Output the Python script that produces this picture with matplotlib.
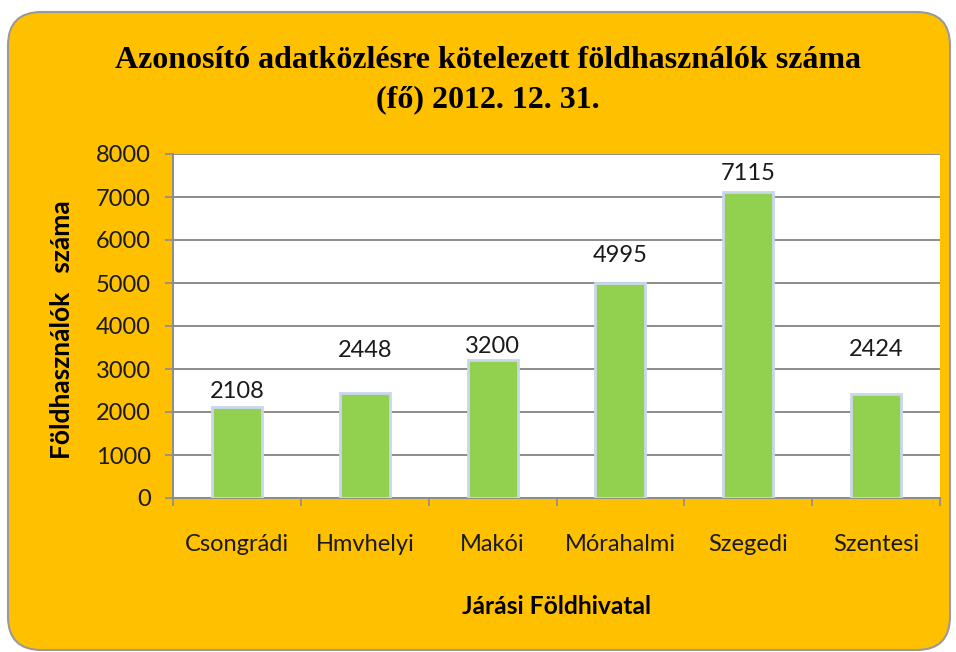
import matplotlib.pyplot as plt
from matplotlib.patches import FancyBboxPatch
import numpy as np

# data
offices = ["Csongrádi", "Hmvhelyi", "Makói", "Mórahalmi", "Szegedi", "Szentesi"]
users = [2108, 2448, 3200, 4995, 7115, 2424]
y_ticks = [0, 1000, 2000, 3000, 4000, 5000, 6000, 7000, 8000]

title = "Azonosító adatközlésre kötelezett földhasználók száma\n(fő) 2012. 12. 31."
x_title = "Járási Földhivatal"
y_title = "Földhasználók   száma"

# gap (points) between bar top and its value label, as placed in the original
label_gap = [6.5, 26, 5, 15, 8.5, 27]

ORANGE = "#FFC000"
GREEN = "#92D050"
EDGE = "#C9D7EE"
GRID = "#8C8C8C"
TICK_FONT = "Lato"

fig = plt.figure(figsize=(9.56, 6.52), dpi=100)
fig.patch.set_facecolor("white")

W, H = 956, 652
# rounded orange background with a grey rim
bg = FancyBboxPatch((8 / W, 2 / H), 942 / W, 638 / H,
                    boxstyle="round,pad=0,rounding_size=0.035",
                    transform=fig.transFigure, facecolor=ORANGE,
                    edgecolor="#9A9A9A", linewidth=1.5, zorder=-1,
                    mutation_aspect=W / H)
fig.patches.append(bg)

ax = fig.add_axes([173 / W, 1 - 498 / H, (940 - 173) / W, (498 - 154) / H])
ax.set_zorder(1)
ax.set_facecolor("white")

x = np.arange(len(offices))
bars = ax.bar(x, users, width=0.39, color=GREEN, edgecolor=EDGE, linewidth=2, zorder=3)

for xi, v, g in zip(x, users, label_gap):
    ax.annotate(str(v), (xi, v), xytext=(0, g), textcoords="offset points",
                ha="center", va="baseline", fontsize=17, family=TICK_FONT,
                color="#1a1a1a", zorder=4)

ax.set_xlim(-0.5, len(offices) - 0.5)
ax.set_ylim(0, 8000)
ax.set_yticks(y_ticks)
ax.set_yticklabels([str(t) for t in y_ticks], fontsize=17, family=TICK_FONT)
ax.yaxis.grid(True, color=GRID, linewidth=1.4, zorder=0)
ax.set_axisbelow(True)

ax.set_xticks(x)
ax.set_xticklabels(offices, fontsize=17, family=TICK_FONT)
ax.set_xticks(np.arange(-0.5, len(offices)), minor=True)
ax.tick_params(axis="x", which="major", length=0, pad=26, colors="#1a1a1a")
ax.tick_params(axis="x", which="minor", length=6, width=1.2, color=GRID)
ax.tick_params(axis="y", length=6, width=1.2, color=GRID, pad=10, labelcolor="#1a1a1a")

for side in ["top", "right"]:
    ax.spines[side].set_visible(False)
for side in ["left", "bottom"]:
    ax.spines[side].set_color(GRID)
    ax.spines[side].set_linewidth(1.4)

fig.text(488 / W, 1 - 80 / H, title, ha="center", va="center", fontsize=23,
         fontweight="bold", family="Liberation Serif", linespacing=1.5)
fig.text(556 / W, 1 - 607 / H, x_title, ha="center", va="center", fontsize=17.7,
         fontweight="bold", family=TICK_FONT)
fig.text(62 / W, 1 - 330 / H, y_title, ha="center", va="center", fontsize=19,
         fontweight="bold", family=TICK_FONT, rotation=90)

fig.savefig("out.png", dpi=100, facecolor=fig.get_facecolor())
